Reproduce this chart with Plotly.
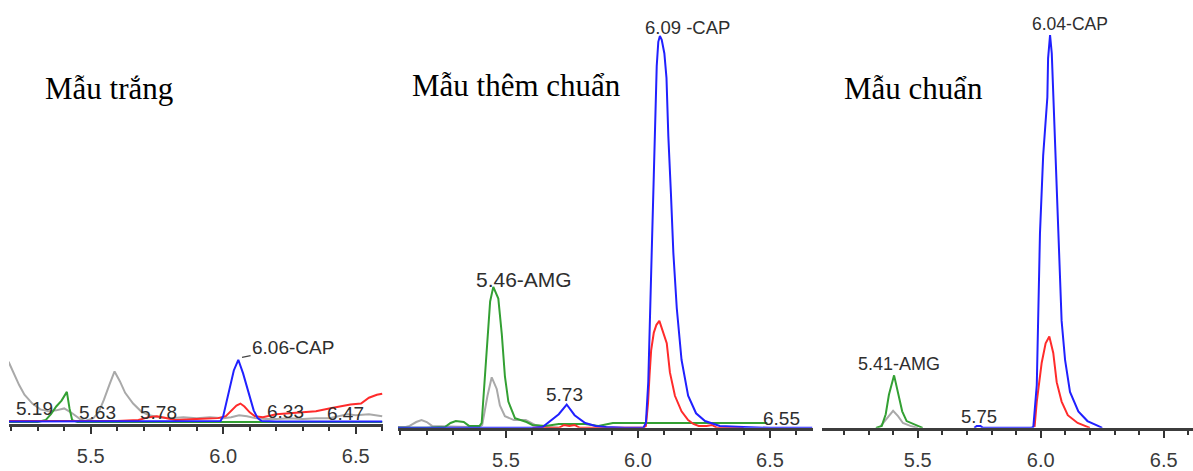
import plotly.graph_objects as go

W, H = 1193, 471

# ---------------- DATA (retention time in min, signal height) ----------------
titles = ["Mẫu trắng", "Mẫu thêm chuẩn", "Mẫu chuẩn"]
tick_vals = [5.5, 6.0, 6.5]
tick_text = ["5.5", "6.0", "6.5"]

# Panel 1 : Mẫu trắng
p1_gray_t = [5.19, 5.21, 5.23, 5.25, 5.28, 5.31, 5.34, 5.37, 5.40, 5.43, 5.46, 5.48, 5.51, 5.53, 5.55,
             5.57, 5.59, 5.61, 5.63, 5.66, 5.69, 5.72, 5.76, 5.80, 5.85, 5.90, 5.95, 6.00, 6.03, 6.06,
             6.09, 6.12, 6.16, 6.20, 6.25, 6.30, 6.35, 6.40, 6.44, 6.47, 6.50, 6.55, 6.60]
p1_gray_y = [64, 52, 40, 30, 21, 15, 13, 14, 16, 11, 5, 3, 6, 12, 25,
             40, 54, 44, 32, 21, 13, 9, 7, 6, 7, 6, 7, 6, 7, 9,
             8, 6, 5, 5, 6, 5, 6, 6, 8, 10, 9, 10, 8]
p1_green_t = [5.19, 5.25, 5.30, 5.33, 5.35, 5.37, 5.39, 5.41, 5.42, 5.43, 5.45, 5.50, 5.60, 5.70,
              5.80, 5.90, 6.00, 6.10, 6.20, 6.30, 6.40, 6.50, 6.60]
p1_green_y = [2, 2, 2, 4, 10, 18, 24, 33, 16, 4, 2, 2, 2, 2, 2, 2, 2, 2, 2, 2, 2, 2, 2]
p1_red_t = [5.19, 5.30, 5.45, 5.60, 5.68, 5.72, 5.75, 5.78, 5.82, 5.90, 5.98, 6.01, 6.03, 6.05, 6.065,
            6.08, 6.10, 6.12, 6.15, 6.20, 6.25, 6.30, 6.35, 6.40, 6.44, 6.48, 6.52, 6.55, 6.58, 6.60]
p1_red_y = [3, 3, 3, 3, 4, 7, 8, 6, 4, 5, 6, 8, 14, 19, 21,
            18, 12, 8, 7, 10, 11, 12, 13, 16, 18, 20, 21, 27, 30, 31]
p1_blue_t = [5.19, 5.40, 5.60, 5.80, 5.96, 5.99, 6.00, 6.02, 6.04, 6.057, 6.075, 6.095, 6.115, 6.13,
             6.145, 6.20, 6.40, 6.60]
p1_blue_y = [2.5, 2.5, 2.5, 2.5, 2.5, 3, 8, 33, 55, 66, 52, 33, 14, 6, 3, 2.5, 2.5, 2.5]

# Panel 2 : Mẫu thêm chuẩn
p2_gray_t = [5.09, 5.12, 5.135, 5.16, 5.18, 5.20, 5.22, 5.30, 5.36, 5.40, 5.41, 5.43, 5.446, 5.465,
             5.477, 5.496, 5.53, 5.575, 5.61, 5.65, 5.70]
p2_gray_y = [1, 1, 2, 6, 8, 6, 2, 1, 1, 1, 3, 33, 52, 40, 23, 12, 8, 8, 3, 1, 0]
p2_green_t = [5.09, 5.20, 5.27, 5.29, 5.31, 5.34, 5.36, 5.40, 5.408, 5.424, 5.433, 5.44, 5.452, 5.471,
              5.484, 5.496, 5.509, 5.534, 5.578, 5.60, 5.65, 5.70, 5.75, 5.80, 5.85, 5.905, 6.00,
              6.10, 6.20, 6.30, 6.40, 6.49]
p2_green_y = [0, 0, 1, 5, 7, 6, 2, 2, 5, 63, 97, 130, 145, 133,
              97, 53, 27, 10, 6, 3, 2, 4, 4, 4, 2, 5, 5,
              5, 5, 5, 5, 5]
p2_red_t = [5.60, 5.70, 5.72, 5.74, 5.76, 5.78, 5.90, 6.02, 6.03, 6.038, 6.044, 6.05, 6.06, 6.07,
            6.081, 6.09, 6.10, 6.109, 6.121, 6.14, 6.165, 6.19, 6.21, 6.23, 6.26, 6.28, 6.30, 6.40]
p2_red_y = [0, 0, 3, 2, 3, 0, 0, 0, 2, 25, 55, 80, 98, 106,
            110, 103, 95, 87, 57, 33, 17, 8, 4, 2, 2, 3, 0, 0]
p2_blue_t = [5.09, 5.30, 5.60, 5.64, 5.67, 5.70, 5.73, 5.76, 5.80, 5.84, 5.88, 5.95, 6.02, 6.03,
             6.039, 6.045, 6.052, 6.06, 6.066, 6.071, 6.077, 6.083, 6.09, 6.10, 6.108, 6.115, 6.125,
             6.134, 6.147, 6.165, 6.19, 6.22, 6.254, 6.31, 6.40, 6.50, 6.66]
p2_blue_y = [0, 0, 0, 1, 8, 14, 24, 13, 5, 2, 1, 0, 0, 5,
             47, 120, 180, 260, 330, 372, 397, 403, 399, 385, 360, 300, 240,
             180, 123, 70, 33, 15, 7, 2, 1, 0, 0]

# Panel 3 : Mẫu chuẩn
p3_gray_t = [5.35, 5.375, 5.40, 5.42, 5.44, 5.47, 5.50]
p3_gray_y = [2, 10, 17.5, 12, 5, 2, 0]
p3_green_t = [5.33, 5.354, 5.37, 5.383, 5.404, 5.421, 5.437, 5.455, 5.489, 5.51, 5.52]
p3_green_y = [0, 2, 14, 34, 54, 34, 17, 7, 3, 1, 0]
p3_red_t = [5.975, 5.984, 6.004, 6.02, 6.035, 6.051, 6.065, 6.085, 6.11, 6.15, 6.19, 6.20]
p3_red_y = [1, 27, 67, 87, 94, 77, 47, 27, 13, 5, 1, 0]
p3_blue_t = [5.73, 5.74, 5.755, 5.765, 5.96, 5.97, 5.984, 5.99, 5.997, 6.01, 6.027, 6.03, 6.038, 6.045,
             6.05, 6.058, 6.07, 6.085, 6.099, 6.119, 6.153, 6.19, 6.233, 6.25]
p3_blue_y = [0, 2, 2, 0, 0, 1, 44, 110, 200, 280, 340, 380, 404, 385,
             350, 300, 220, 110, 70, 37, 17, 7, 2, 0]

# peak label texts
p1_labels = ["5.19", "5.63", "5.78", "6.33", "6.47", "6.06-CAP"]
p2_labels = ["5.46-AMG", "5.73", "6.55", "6.09 -CAP"]
p3_labels = ["5.41-AMG", "5.75", "6.04-CAP"]

# ---------------- LAYOUT GEOMETRY ----------------
panels = [
    dict(px=(9, 383), rng=(5.1917, 6.603), base=436),
    dict(px=(398, 813), rng=(5.091, 6.663), base=440),
    dict(px=(822, 1193), rng=(5.111, 6.619), base=440),
]
# label placement (x in axis units, y in height units above baseline, font size)
p1_lab_pos = [(5.287, 16, 19), (5.527, 12, 19), (5.754, 12, 19), (6.234, 13, 19), (6.460, 11, 19)]
p2_lab_pos = [(5.568, 153, 21), (5.723, 34, 19), (6.544, 10, 19), (6.189, 412, 18.5)]
p3_lab_pos = [(5.424, 66, 18), (5.749, 12, 18.5), (6.121, 415, 17.5)]

COL = dict(gray="#a9a9a9", green="#33a033", red="#ff2b2b", blue="#2020ff")
data = [
    [("gray", p1_gray_t, p1_gray_y), ("green", p1_green_t, p1_green_y),
     ("red", p1_red_t, p1_red_y), ("blue", p1_blue_t, p1_blue_y)],
    [("gray", p2_gray_t, p2_gray_y), ("green", p2_green_t, p2_green_y),
     ("red", p2_red_t, p2_red_y), ("blue", p2_blue_t, p2_blue_y)],
    [("gray", p3_gray_t, p3_gray_y), ("green", p3_green_t, p3_green_y),
     ("red", p3_red_t, p3_red_y), ("blue", p3_blue_t, p3_blue_y)],
]

fig = go.Figure()
layout = dict(width=W, height=H, margin=dict(l=0, r=0, t=0, b=0),
              paper_bgcolor="white", plot_bgcolor="white", showlegend=False)

for i, (pn, traces) in enumerate(zip(panels, data)):
    k = "" if i == 0 else str(i + 1)
    for name, t, y in traces:
        fig.add_trace(go.Scatter(x=t, y=y, mode="lines", xaxis="x" + k, yaxis="y" + k,
                                 line=dict(color=COL[name], width=2), hoverinfo="skip",
                                 cliponaxis=True))
    layout["xaxis" + k] = dict(
        domain=[pn["px"][0] / W, pn["px"][1] / W], range=list(pn["rng"]), anchor="y" + k,
        showline=True, linecolor="#3c3c3c", linewidth=2.5, showgrid=False, zeroline=False,
        ticks="outside", ticklen=7, tickwidth=2, tickcolor="#333",
        tickvals=tick_vals, ticktext=tick_text, ticklabelstandoff=5,
        tickfont=dict(family="Liberation Sans", size=20, color="#3a3a3a"),
        minor=dict(dtick=0.1, tick0=5.0, ticks="outside", ticklen=4, tickwidth=2,
                   tickcolor="#333", showgrid=False),
    )
    layout["yaxis" + k] = dict(
        domain=[(H - pn["base"]) / H, 1.0], range=[0, pn["base"]], anchor="x" + k,
        visible=False, fixedrange=True,
    )

fig.update_layout(**layout)

ann = []
title_pos = [(43, 91), (410, 87.5), (842, 91)]
for (tx, ty), txt in zip(title_pos, titles):
    ann.append(dict(xref="paper", yref="paper", x=tx / W, y=1 - ty / H, text=txt, showarrow=False,
                    xanchor="left", yanchor="middle",
                    font=dict(family="Liberation Serif", size=31, color="black")))

lab_font = lambda s: dict(family="Liberation Sans", size=s, color="#2e2e2e")

for txt, (x, hh, s) in zip(p1_labels[:5], p1_lab_pos):
    ann.append(dict(xref="x", yref="y", x=x, y=hh, text=txt, showarrow=False,
                    xanchor="center", yanchor="middle", font=lab_font(s)))
# CAP label with leader line in panel 1
ann.append(dict(xref="x", yref="y", x=6.06, y=68, text=p1_labels[5], showarrow=True,
                arrowhead=0, arrowwidth=1.2, arrowcolor="#444", axref="pixel", ayref="pixel",
                ax=54, ay=-10, standoff=3, xanchor="center", yanchor="middle", font=lab_font(19)))

for txt, (x, hh, s) in zip(p2_labels, p2_lab_pos):
    ann.append(dict(xref="x2", yref="y2", x=x, y=hh, text=txt, showarrow=False,
                    xanchor="center", yanchor="middle", font=lab_font(s)))
for txt, (x, hh, s) in zip(p3_labels, p3_lab_pos):
    ann.append(dict(xref="x3", yref="y3", x=x, y=hh, text=txt, showarrow=False,
                    xanchor="center", yanchor="middle", font=lab_font(s)))

fig.update_layout(annotations=ann)
fig.write_html("out.html")
